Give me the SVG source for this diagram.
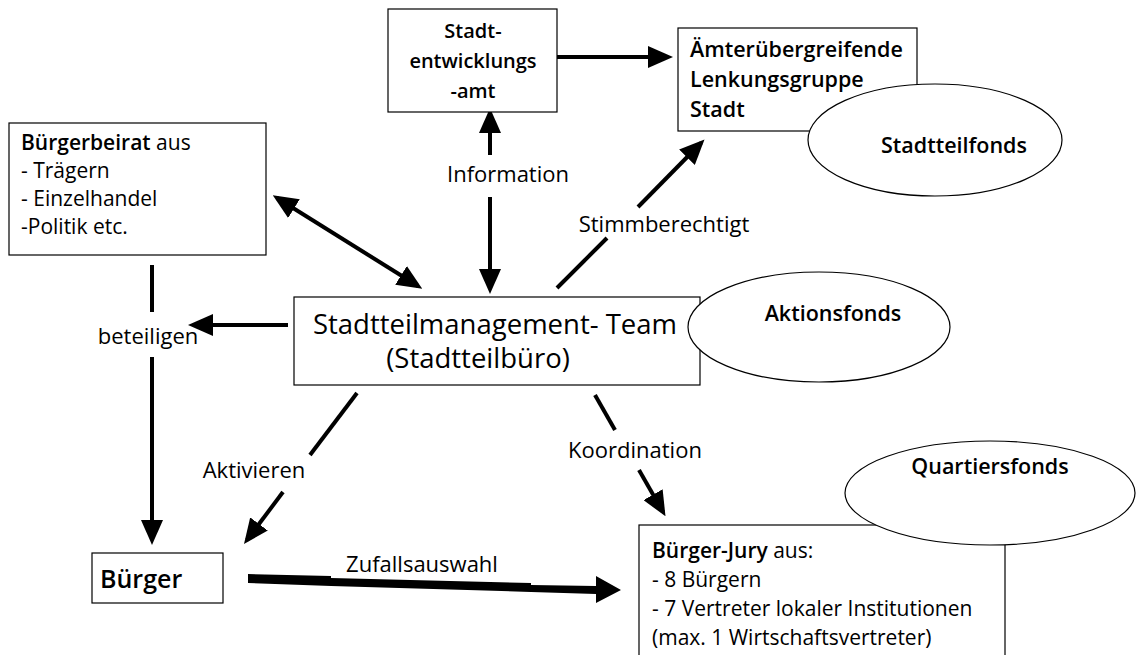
<svg xmlns="http://www.w3.org/2000/svg" width="1139" height="655" viewBox="0 0 1139 655">
<style>
.box{fill:#fff;stroke:#000;stroke-width:1.2}
.ell{fill:#fff;stroke:#000;stroke-width:1.2}
.t{font-family:"Open Sans","Liberation Sans",sans-serif;font-size:22px;fill:#000}
.b{font-weight:600}
.c{text-anchor:middle}
.ln{stroke:#000;stroke-width:4;fill:none}
</style>
<defs>
<marker id="ah" markerUnits="userSpaceOnUse" markerWidth="25" markerHeight="22" refX="20" refY="11" orient="auto-start-reverse" viewBox="0 0 25 22">
<path d="M0,0 L25,11 L0,22 z" fill="#000"/>
</marker>
</defs>
<rect width="1139" height="655" fill="#fff"/>
<g id="connectors">
<line class="ln" x1="557" y1="57" x2="668" y2="57" marker-end="url(#ah)"/>
<line class="ln" x1="490" y1="155" x2="490" y2="113" marker-end="url(#ah)"/>
<line class="ln" x1="490" y1="197" x2="490" y2="289" marker-end="url(#ah)"/>
<text class="t c" x="508" y="182">Information</text>
<line class="ln" x1="557" y1="288" x2="607" y2="238"/>
<line class="ln" x1="638" y1="207" x2="701" y2="143" marker-end="url(#ah)"/>
<text class="t c" x="664" y="232">Stimmberechtigt</text>
<line class="ln" x1="277" y1="198" x2="418" y2="286" marker-start="url(#ah)" marker-end="url(#ah)"/>
<line class="ln" x1="288" y1="325" x2="193" y2="325" marker-end="url(#ah)"/>
<text class="t c" x="148" y="344">beteiligen</text>
<line class="ln" x1="152" y1="265" x2="152" y2="312"/>
<line class="ln" x1="152" y1="357" x2="152" y2="540" marker-end="url(#ah)"/>
<line class="ln" x1="357" y1="393" x2="310" y2="455"/>
<line class="ln" x1="283" y1="492" x2="247" y2="540" marker-end="url(#ah)"/>
<text class="t c" x="254" y="478">Aktivieren</text>
<line class="ln" x1="595" y1="395" x2="615" y2="430"/>
<line class="ln" x1="639" y1="470" x2="663" y2="512" marker-end="url(#ah)"/>
<text class="t c" x="635" y="458">Koordination</text>
<polygon points="248,574 331,576 331,578 531,583 531,585 596,586 596,576 621,590 596,603 596,594 531,592 331,586 248,583" fill="#000"/>
<text class="t c" x="422" y="572">Zufallsauswahl</text>
</g>
<g id="stadtentwicklungsamt">
<rect class="box" x="388" y="9" width="169" height="103"/>
<text class="t b c" x="473" y="38" style="font-size:20px">Stadt-</text>
<text class="t b c" x="473" y="68" style="font-size:20px">entwicklungs</text>
<text class="t b c" x="473" y="98" style="font-size:20px">-amt</text>
</g>
<g id="lenkungsgruppe">
<rect class="box" x="678" y="28" width="239" height="103"/>
<text class="t b" x="690" y="57" style="font-size:21.5px">Ämterübergreifende</text>
<text class="t b" x="690" y="87" style="font-size:21.5px">Lenkungsgruppe</text>
<text class="t b" x="690" y="117" style="font-size:21.5px">Stadt</text>
</g>
<g id="stadtteilfonds">
<ellipse class="ell" cx="935" cy="140" rx="127" ry="56"/>
<text class="t b c" x="954" y="153" style="font-size:21.5px">Stadtteilfonds</text>
</g>
<g id="buergerbeirat">
<rect class="box" x="9" y="123" width="257" height="132"/>
<text class="t" x="21" y="150" style="font-size:21px"><tspan class="b">Bürgerbeirat</tspan> aus</text>
<text class="t" x="21" y="178" style="font-size:21px">- Trägern</text>
<text class="t" x="21" y="206" style="font-size:21px">- Einzelhandel</text>
<text class="t" x="21" y="234" style="font-size:21px">-Politik etc.</text>
</g>
<g id="stadtteilmanagement">
<rect class="box" x="294" y="297" width="406" height="88"/>
<text class="t c" x="495" y="334" style="font-size:27.5px">Stadtteilmanagement- Team</text>
<text class="t c" x="478" y="368" style="font-size:27.5px">(Stadtteilbüro)</text>
</g>
<g id="aktionsfonds">
<ellipse class="ell" cx="819" cy="327" rx="131" ry="55"/>
<text class="t b c" x="833" y="321" style="font-size:21.5px">Aktionsfonds</text>
</g>
<g id="buergerjury">
<rect class="box" x="639" y="525" width="366" height="140"/>
<text class="t" x="652" y="558" style="font-size:21px"><tspan class="b">Bürger-Jury</tspan> aus:</text>
<text class="t" x="652" y="587" style="font-size:21px">- 8 Bürgern</text>
<text class="t" x="652" y="616" style="font-size:21px">- 7 Vertreter lokaler Institutionen</text>
<text class="t" x="652" y="645" style="font-size:21px">(max. 1 Wirtschaftsvertreter)</text>
</g>
<g id="quartiersfonds">
<ellipse class="ell" cx="990" cy="493" rx="145" ry="52"/>
<text class="t b c" x="990" y="474" style="font-size:21.5px">Quartiersfonds</text>
</g>
<g id="buerger">
<rect class="box" x="92" y="553" width="131" height="50"/>
<text class="t b" x="100" y="588" style="font-size:25px">Bürger</text>
</g>
</svg>
